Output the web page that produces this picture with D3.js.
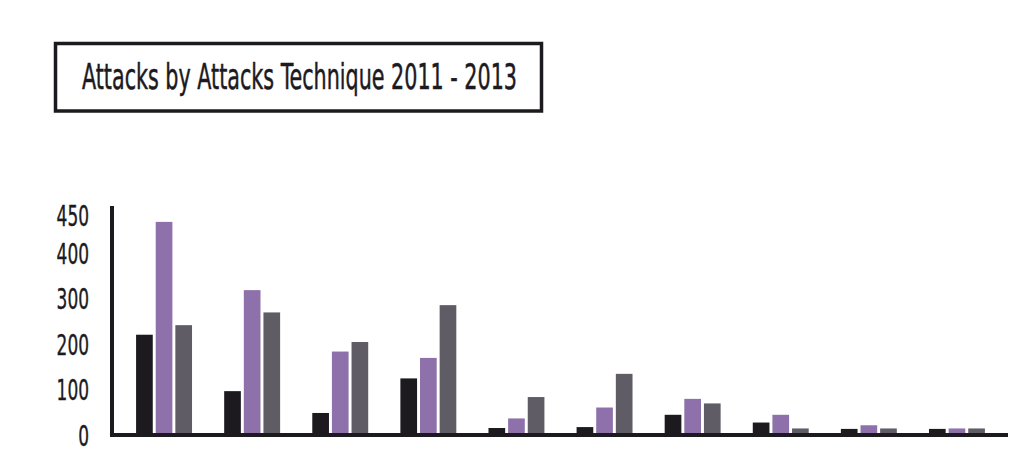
<!DOCTYPE html>
<html>
<head>
<meta charset="utf-8">
<script src="https://cdn.jsdelivr.net/npm/d3@7"></script>
<style>
  html, body { margin: 0; padding: 0; background: #ffffff; }
  svg { display: block; }
</style>
</head>
<body>
<svg id="chart" width="1024" height="455"></svg>
<script>
const title = "Attacks by Attacks Technique 2011 - 2013";
const categories = ["T1", "T2", "T3", "T4", "T5", "T6", "T7", "T8", "T9", "T10"];
const seriesNames = ["2011", "2012", "2013"];
const values2011 = [216, 92, 44, 120, 11, 13, 40, 23, 9, 9];
const values2012 = [464, 314, 179, 165, 32, 56, 75, 40, 17, 10];
const values2013 = [237, 265, 200, 281, 79, 130, 65, 10, 10, 10];
const tickValues = [0, 100, 200, 300, 400, 450];

const colors = ["#1c1a1e", "#8e71aa", "#5f5c66"];
const FONT = "'Liberation Sans Narrow', 'DejaVu Sans Condensed', 'Roboto', sans-serif";

const svg = d3.select("#chart");

// Title box
svg.append("rect")
  .attr("x", 55.5).attr("y", 43.5)
  .attr("width", 486).attr("height", 67.5)
  .attr("fill", "#fff")
  .attr("stroke", "#1c1a1e")
  .attr("stroke-width", 3.5);

svg.append("text")
  .attr("x", 82).attr("y", 89)
  .attr("font-family", FONT)
  .attr("font-size", 36)
  .attr("fill", "#1c1a1e")
  .attr("stroke", "#1c1a1e")
  .attr("stroke-width", 0.5)
  .attr("textLength", 435)
  .attr("lengthAdjust", "spacingAndGlyphs")
  .text(title);

// Scales
const baseY = 433;
const y = d3.scaleLinear().domain([0, 450]).range([baseY, baseY - 204.75]);

const x0 = d3.scaleBand()
  .domain(categories)
  .range([113, 1008])
  .paddingInner(0.365)
  .paddingOuter(0.262);

const x1 = d3.scaleBand()
  .domain(seriesNames)
  .range([0, x0.bandwidth()])
  .paddingInner(0.15)
  .paddingOuter(0);

const data = categories.map((c, i) => ({
  cat: c,
  vals: [values2011[i], values2012[i], values2013[i]]
}));

// Bars
const g = svg.append("g");
const groups = g.selectAll("g.grp")
  .data(data)
  .join("g")
  .attr("class", "grp")
  .attr("transform", d => `translate(${x0(d.cat)},0)`);

groups.selectAll("rect")
  .data(d => d.vals.map((v, k) => ({ s: seriesNames[k], v, k })))
  .join("rect")
  .attr("x", d => x1(d.s))
  .attr("y", d => y(d.v))
  .attr("width", x1.bandwidth())
  .attr("height", d => baseY - y(d.v))
  .attr("fill", d => colors[d.k]);

// Axes lines
svg.append("line")
  .attr("x1", 112).attr("x2", 112)
  .attr("y1", 206).attr("y2", 437)
  .attr("stroke", "#1c1a1e").attr("stroke-width", 4);

svg.append("line")
  .attr("x1", 110).attr("x2", 1008)
  .attr("y1", 435).attr("y2", 435)
  .attr("stroke", "#1c1a1e").attr("stroke-width", 4);

// Y tick labels
const yAxis = d3.axisLeft(y).tickValues(tickValues).tickSize(0).tickPadding(0);
const ya = svg.append("g")
  .attr("transform", "translate(89,0)")
  .call(yAxis);
ya.select(".domain").remove();
ya.selectAll("text")
  .attr("font-family", FONT)
  .attr("font-size", 29)
  .attr("fill", "#1c1a1e")
  .attr("stroke", "#1c1a1e")
  .attr("stroke-width", 0.4)
  .attr("text-anchor", "end")
  .attr("dy", d => d === 450 ? "-0.1em" : "0.42em")
  .attr("textLength", d => String(d).length * 10.8)
  .attr("lengthAdjust", "spacingAndGlyphs");
</script>
</body>
</html>
